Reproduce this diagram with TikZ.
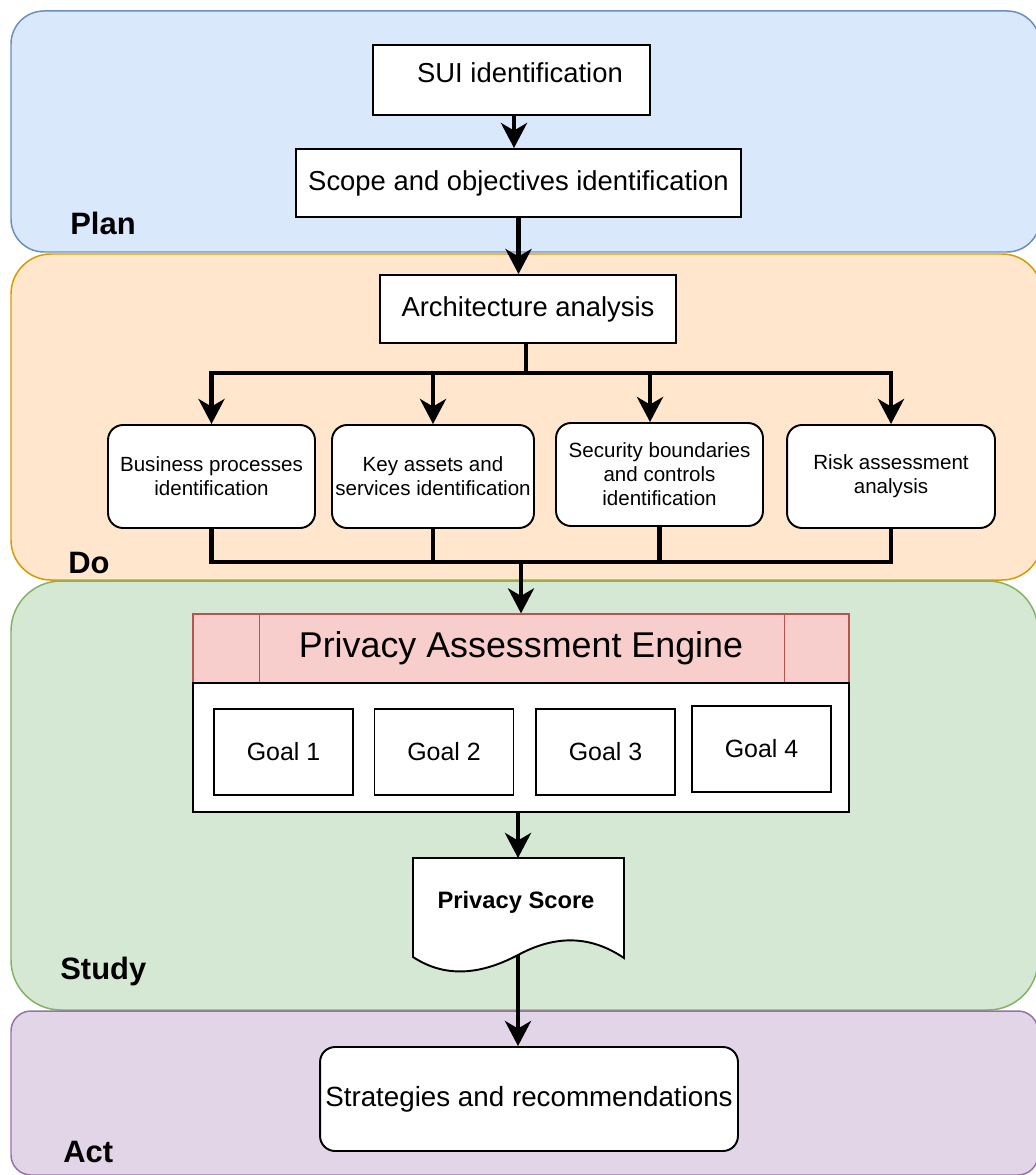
\documentclass[tikz,border=0pt]{standalone}
\usepackage{fontspec}
\setsansfont{Liberation Sans}
\usetikzlibrary{positioning, arrows.meta}
\definecolor{plan_fill}{HTML}{DAE8FC}
\definecolor{plan_line}{HTML}{6C8EBF}
\definecolor{do_fill}{HTML}{FFE6CC}
\definecolor{do_line}{HTML}{D79B00}
\definecolor{study_fill}{HTML}{D5E8D4}
\definecolor{study_line}{HTML}{82B366}
\definecolor{act_fill}{HTML}{E1D5E7}
\definecolor{act_line}{HTML}{9673A6}
\definecolor{eng_fill}{HTML}{F8CECC}
\definecolor{eng_line}{HTML}{B85450}

\begin{document}
\begin{tikzpicture}[
    x=0.02cm, y=-0.02cm, % un'unita = un pixel
    font=\sffamily,
    panel/.style={line width=0.85pt},
    phase/.style={anchor=base west, inner sep=0pt, font=\sffamily\bfseries\fontsize{17.6}{20}\selectfont},
    box/.style={draw, fill=white, line width=1.1pt, inner sep=0pt,
                font=\sffamily\fontsize{15.6}{18}\selectfont},
    task/.style={box, rounded corners=0.3cm, align=center, minimum height=2.06cm,
                 font=\sffamily\fontsize{11.7}{13.6}\selectfont},
    goal/.style={box, minimum width=2.78cm, minimum height=1.72cm,
                 font=\sffamily\fontsize{14.2}{16}\selectfont},
    flow/.style={line width=2.8pt, -{Stealth[length=0.5cm, width=0.52cm, inset=0.15cm]}},
    link/.style={line width=2.8pt}
]

\useasboundingbox (0,0) rectangle (1035,1175);

% --- Fasce di sfondo ---
\draw[panel, fill=plan_fill, draw=plan_line, rounded corners=0.66cm] (11,11) rectangle (1040,252);
\draw[panel, fill=do_fill, draw=do_line, rounded corners=0.8cm] (11,254) rectangle (1042,580);
\draw[panel, fill=study_fill, draw=study_line, rounded corners=1.0cm] (11,581) rectangle (1038,1010);
\draw[panel, fill=act_fill, draw=act_line, rounded corners=0.4cm] (11,1011) rectangle (1038,1175);

\node[phase] (plan_lbl) at (70,235) {Plan};
\node[phase] (do_lbl) at (68,573) {Do};
\node[phase] (study_lbl) at (60,979) {Study};
\node[phase] (act_lbl) at (63,1162) {Act};

% --- 1. Plan ---
% testo leggermente spostato, come nell'originale
\node[box, minimum width=5.54cm, minimum height=1.40cm] (sui) at (511.5,80)
    {\hspace*{0.34cm}\raisebox{0.14cm}[\height][\depth]{SUI identification}};
\node[box, minimum width=8.9cm, minimum height=1.36cm] (scope) at (518.5,183) {Scope and objectives identification};
\draw[flow] ([xshift=0.05cm]sui.south) -- ([xshift=0.05cm]sui.south |- scope.north);

% --- 2. Do ---
\node[box, minimum width=5.92cm, minimum height=1.36cm] (arch) at (528,309) {Architecture analysis};
\draw[flow] (scope.south) -- (scope.south |- arch.north);

\node[task, minimum width=4.14cm] (bus) at (211.5,476.5) {Business processes\\identification};
\node[task, minimum width=4.04cm] (keys) at (433,476.5) {Key assets and\\services identification};
\node[task, minimum width=4.14cm] (sec) at (659.5,474.5) {Security boundaries\\and controls\\identification};
\node[task, minimum width=4.16cm] (risk) at (891,476.5) {Risk assessment\\analysis};

% biforcazione verso le quattro attivita
\coordinate (fork) at (526,373);
\draw[link] (arch.south -| fork) -- (fork);
\draw[flow] (fork) -| (bus.north);
\draw[flow] (fork) -| (keys.north);
\draw[flow] (fork) -| ([xshift=-0.19cm]sec.north);
\draw[flow] (fork) -| (risk.north);

% ricongiungimento
\coordinate (join) at (521,562);
\foreach \t in {bus, keys, sec, risk}
    \draw[link] (\t.south) |- (join);

% --- 3. Study ---
\node[draw=eng_line, fill=eng_fill, line width=0.7pt, minimum width=13.12cm, minimum height=1.38cm,
      font=\sffamily\fontsize{20.4}{24}\selectfont] (engine) at (521,648.5) {Privacy Assessment Engine};
\draw[eng_line, line width=0.7pt] ([xshift=1.34cm]engine.north west) -- ([xshift=1.34cm]engine.south west);
\draw[eng_line, line width=0.7pt] ([xshift=-1.3cm]engine.north east) -- ([xshift=-1.3cm]engine.south east);
\node[box, minimum width=13.12cm, minimum height=2.58cm] (engbody) at (521,747.5) {};
\draw[flow] (join) -- (engine.north);

\node[goal] (goal1) at (283.5,752) {Goal 1};
\node[goal] (goal2) at (444,752) {Goal 2};
\node[goal] (goal3) at (605.5,752) {Goal 3};
\node[goal] (goal4) at (761.5,749) {Goal 4};

% Documento "Privacy Score" con bordo ondulato
\draw[fill=white, line width=1.1pt] (413,858) -- (624,858) -- (624,958)
    .. controls (590,935) and (555,935) .. (518,955)
    .. controls (480,975) and (445,978) .. (413,957) -- cycle;
\node[font=\sffamily\bfseries\fontsize{13.5}{16}\selectfont] (score) at (516,902) {Privacy Score};
\coordinate (score_top) at (518,858);
\coordinate (score_bot) at (518,955);
\draw[flow] (score_top |- engbody.south) -- (score_top);

% --- 4. Act ---
\node[box, rounded corners=0.3cm, minimum width=8.36cm, minimum height=2.08cm,
      font=\sffamily\fontsize{15.8}{18}\selectfont] (strat) at (529,1099) {Strategies and recommendations};
\draw[flow] (score_bot) -- (score_bot |- strat.north);

\end{tikzpicture}
\end{document}
